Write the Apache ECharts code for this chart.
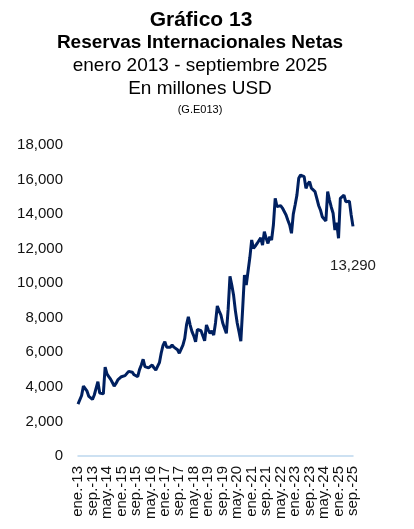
<!DOCTYPE html>
<html>
<head>
<meta charset="utf-8">
<script src="https://cdn.jsdelivr.net/npm/echarts@6/dist/echarts.min.js"></script>
<style>
html,body{margin:0;padding:0;background:#fff;}
#c{width:414px;height:529px;}
</style>
</head>
<body>
<div id="c"></div>
<script>
var monthNames = ['ene.','feb.','mar.','abr.','may.','jun.','jul.','ago.','sep.','oct.','nov.','dic.'];
var years = ['13','14','15','16','17','18','19','20','21','22','23','24','25'];
var yTicks = [0,2000,4000,6000,8000,10000,12000,14000,16000,18000];

var rin2013 = [3000,3050,3500,4050,4000,3750,3450,3350,3280,3530,3450,4300];
var rin2014 = [3640,3530,3600,5150,4750,4600,4450,4250,4050,4200,4400,4500];
var rin2015 = [4590,4690,4650,4750,4900,4900,4850,4700,4650,4590,5000,5270];
var rin2016 = [5600,5170,5070,5100,5150,5270,5100,4980,4880,5400,5960,6400];
var rin2017 = [6620,6300,6230,6300,6420,6300,6250,6150,5950,5840,6420,6810];
var rin2018 = [7600,8060,7580,7200,6950,6610,7330,7300,7250,7150,6670,7580];
var rin2019 = [7300,7100,7250,7000,7700,8680,8400,8160,7700,7400,7100,8500];
var rin2020 = [10400,9900,9300,8400,7700,7190,6650,8500,10470,9900,9900,11500];
var rin2021 = [12500,12020,12150,12300,12400,12630,12210,12980,12600,12300,12690,12500];
var rin2022 = [13370,14910,14430,14350,14490,14350,14240,13950,13650,13370,12890,14000];
var rin2023 = [14530,15100,16070,16260,16220,16170,15490,15750,15880,15500,15390,15300];
var rin2024 = [14910,14500,14240,13850,13750,13600,15300,14810,14400,14050,13080,13500];
var rin2025 = [12600,14910,15010,15100,14720,14750,14750,13950,13290];

var values = [].concat(rin2013,rin2014,rin2015,rin2016,rin2017,rin2018,rin2019,rin2020,rin2021,rin2022,rin2023,rin2024,rin2025);
var categories = [];
for (var y = 0; y < years.length; y++) {
  for (var m = 0; m < 12; m++) {
    if (categories.length < values.length) categories.push(monthNames[m] + '-' + years[y]);
  }
}
var seriesData = values.map(function(v, i){
  if (i === values.length - 1) {
    return {value: v, label: {show: true, position: 'bottom', distance: 32,
      formatter: function(p){ return p.value.toLocaleString('en-US'); },
      color: '#222', fontSize: 15, fontFamily: 'Liberation Sans'}};
  }
  return v;
});

var chart = echarts.init(document.getElementById('c'), null, {renderer: 'canvas'});
chart.setOption({
  animation: false,
  backgroundColor: '#fff',
  title: [
    {text: 'Gráfico 13', left: 196, top: 5, textAlign: 'center',
     textStyle: {fontFamily: 'Liberation Sans', fontSize: 21, fontWeight: 'bold', color: '#000'}},
    {text: 'Reservas Internacionales Netas', left: 195, top: 28, textAlign: 'center',
     textStyle: {fontFamily: 'Liberation Sans', fontSize: 19, fontWeight: 'bold', color: '#000'}},
    {text: 'enero 2013 - septiembre 2025', left: 195, top: 51, textAlign: 'center',
     textStyle: {fontFamily: 'Liberation Sans', fontSize: 19, fontWeight: 'normal', color: '#000'}},
    {text: 'En millones USD', left: 195, top: 74, textAlign: 'center',
     textStyle: {fontFamily: 'Liberation Sans', fontSize: 19, fontWeight: 'normal', color: '#000'}},
    {text: '(G.E013)', left: 195, top: 99, textAlign: 'center',
     textStyle: {fontFamily: 'Liberation Sans', fontSize: 11, fontWeight: 'normal', color: '#000'}}
  ],
  grid: {left: 78, right: 61, top: 145, bottom: 73, containLabel: false},
  xAxis: {
    type: 'category',
    data: categories,
    boundaryGap: false,
    axisLine: {show: true, lineStyle: {color: '#BDD7EE', width: 1.5}},
    axisTick: {show: false},
    axisLabel: {interval: 0, rotate: 90, fontSize: 15,
      fontFamily: 'Liberation Sans', color: '#111', margin: 10, hideOverlap: false,
      formatter: function(val, idx){ return idx % 8 === 0 ? val : ''; }}
  },
  yAxis: {
    type: 'value',
    min: 0, max: 18000, interval: 2000,
    splitLine: {show: false},
    axisLine: {show: false},
    axisTick: {show: false},
    axisLabel: {fontSize: 15, fontFamily: 'Liberation Sans', color: '#111', margin: 15,
      formatter: function(v){ return yTicks.indexOf(v) >= 0 ? v.toLocaleString('en-US') : ''; }}
  },
  series: [{
    type: 'line',
    data: seriesData,
    symbol: 'circle',
    symbolSize: 0,
    showSymbol: true,
    showAllSymbol: true,
    lineStyle: {color: '#002060', width: 3},
    itemStyle: {color: '#002060'},
    z: 3
  }]
});
</script>
</body>
</html>
